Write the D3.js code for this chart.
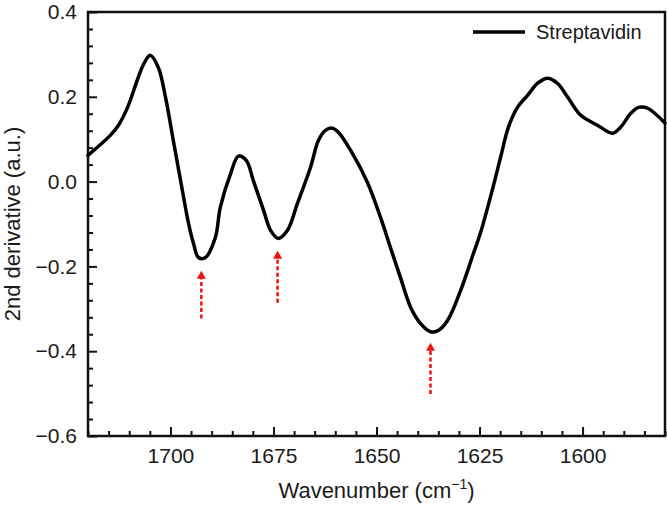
<!DOCTYPE html>
<html><head><meta charset="utf-8">
<script src="https://cdn.jsdelivr.net/npm/d3@7"></script>
<style>
body{margin:0;background:#fff;}
svg text{font-family:"Liberation Sans",Arial,Helvetica,sans-serif;fill:#1a1a1a;}
</style></head>
<body><svg id="c" width="667" height="505"></svg>
<script>
const wavenumbers = [1720,1714.6,1712.6,1710.4,1707.8,1706.6,1704.9,1702.9,1701.2,1699.3,1697.1,1695.6,1694.4,1693.2,1691.5,1689.1,1687.9,1685.4,1683.5,1681.6,1679.9,1677.4,1675.7,1673.8,1671.6,1669.2,1666.0,1664.1,1662.4,1660.7,1659.2,1656.3,1652.2,1649.0,1646.6,1644.2,1641.7,1639.3,1636.9,1635.2,1632.8,1629.6,1626.5,1624.8,1621.8,1619.9,1618.0,1615.8,1613.3,1610.9,1608.5,1606.1,1603.6,1600.5,1596.4,1592.7,1590.8,1588.3,1586.4,1584.2,1580];
const streptavidin = [0.062,0.109,0.133,0.175,0.246,0.275,0.298,0.268,0.199,0.097,-0.021,-0.099,-0.146,-0.179,-0.179,-0.132,-0.061,0.019,0.060,0.050,0.003,-0.068,-0.115,-0.134,-0.115,-0.052,0.034,0.097,0.121,0.126,0.116,0.074,-0.002,-0.085,-0.156,-0.226,-0.297,-0.335,-0.354,-0.352,-0.328,-0.257,-0.170,-0.122,-0.016,0.057,0.128,0.175,0.204,0.232,0.244,0.232,0.199,0.157,0.133,0.114,0.128,0.161,0.175,0.173,0.138];
const arrowWavenumbers = [1692.5,1674.0,1636.9];
const arrowTips = [-0.210,-0.163,-0.380];
const arrowTails = [-0.323,-0.286,-0.501];
const xTicks = [1700,1675,1650,1625,1600];
const yTicks = [-0.6,-0.4,-0.2,0.0,0.2,0.4];
const seriesName = "Streptavidin";

const W=667,H=505,m={l:88,t:12,r:2,b:69};
const svg=d3.select("#c");
const x=d3.scaleLinear().domain([1720,1580]).range([m.l,W-m.r]);
const y=d3.scaleLinear().domain([-0.6,0.4]).range([H-m.b,m.t]);

const xMinor=d3.range(1580,1721,5).filter(v=>v%25!==0);
const yMinor=d3.range(0,26).map(i=>-0.6+i*0.04).filter((v,i)=>i%5!==0);

const gx=svg.append("g").attr("transform",`translate(0,${H-m.b})`)
  .call(d3.axisBottom(x).tickValues(xTicks).tickFormat(d3.format("d")).tickSize(-9).tickPadding(12));
const gxm=svg.append("g").attr("transform",`translate(0,${H-m.b})`)
  .call(d3.axisBottom(x).tickValues(xMinor).tickFormat("").tickSize(-5));
const gy=svg.append("g").attr("transform",`translate(${m.l},0)`)
  .call(d3.axisLeft(y).tickValues(yTicks).tickFormat(d3.format(".1f")).tickSize(-9).tickPadding(11));
const gym=svg.append("g").attr("transform",`translate(${m.l},0)`)
  .call(d3.axisLeft(y).tickValues(yMinor).tickFormat("").tickSize(-5));
[gx,gxm,gy,gym].forEach(g=>{g.select(".domain").remove();g.selectAll("line").attr("stroke","#111").attr("stroke-width",2);});
[gx,gy].forEach(g=>g.selectAll("text").attr("font-size",21).attr("fill","#1a1a1a"));

svg.append("rect").attr("x",m.l).attr("y",m.t).attr("width",W-m.r-m.l).attr("height",H-m.b-m.t)
  .attr("fill","none").attr("stroke","#111").attr("stroke-width",2.5);

const pts=wavenumbers.map((w,i)=>[w,streptavidin[i]]);
svg.append("path").datum(pts).attr("fill","none").attr("stroke","#000").attr("stroke-width",3.5)
  .attr("stroke-linejoin","round").attr("stroke-linecap","round")
  .attr("d",d3.line().x(d=>x(d[0])).y(d=>y(d[1])).curve(d3.curveCatmullRom.alpha(0.5)));

arrowWavenumbers.forEach((w,i)=>{
  const ax=x(w), tip=y(arrowTips[i]), tail=y(arrowTails[i]);
  svg.append("line").attr("x1",ax).attr("x2",ax).attr("y1",tail).attr("y2",tip+7)
    .attr("stroke","#f01010").attr("stroke-width",2.5).attr("stroke-dasharray","4,2.5");
  svg.append("path").attr("d",`M${ax},${tip}L${ax-4.5},${tip+8}L${ax+4.5},${tip+8}Z`).attr("fill","#f01010");
});

svg.append("line").attr("x1",473).attr("x2",525).attr("y1",32).attr("y2",32).attr("stroke","#000").attr("stroke-width",3.5);
svg.append("text").attr("x",536).attr("y",39).attr("font-size",20).text(seriesName);

const xt=svg.append("text").attr("x",(m.l+W-m.r)/2).attr("y",498).attr("text-anchor","middle").attr("font-size",22);
xt.append("tspan").text("Wavenumber (cm");
xt.append("tspan").text("\u22121").attr("font-size",14).attr("dy",-9);
xt.append("tspan").text(")").attr("dy",9);
svg.append("text").attr("transform",`translate(20,${(m.t+H-m.b)/2}) rotate(-90)`).attr("text-anchor","middle")
  .attr("font-size",22).text("2nd derivative (a.u.)");
</script></body></html>
